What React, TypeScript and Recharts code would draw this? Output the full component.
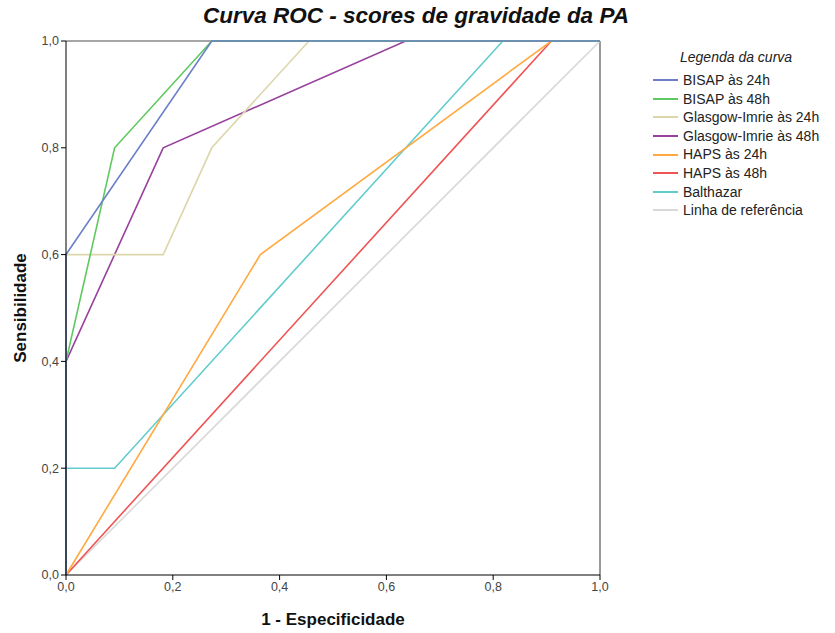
import React from 'react';
import { LineChart, Line, XAxis, YAxis, ReferenceLine } from 'recharts';

const ticks = [0, 0.2, 0.4, 0.6, 0.8, 1];

const bisap24 = [
  { x: 0, y: 0 }, { x: 0, y: 0.6 }, { x: 0.273, y: 1 }, { x: 1, y: 1 },
];
const bisap48 = [
  { x: 0, y: 0 }, { x: 0, y: 0.4 }, { x: 0.091, y: 0.8 }, { x: 0.273, y: 1 }, { x: 1, y: 1 },
];
const glasgow24 = [
  { x: 0, y: 0 }, { x: 0, y: 0.6 }, { x: 0.182, y: 0.6 }, { x: 0.273, y: 0.8 }, { x: 0.455, y: 1 }, { x: 1, y: 1 },
];
const glasgow48 = [
  { x: 0, y: 0 }, { x: 0, y: 0.4 }, { x: 0.182, y: 0.8 }, { x: 0.636, y: 1 }, { x: 1, y: 1 },
];
const haps24 = [
  { x: 0, y: 0 }, { x: 0.364, y: 0.6 }, { x: 0.909, y: 1 }, { x: 1, y: 1 },
];
const haps48 = [
  { x: 0, y: 0 }, { x: 0.909, y: 1 }, { x: 1, y: 1 },
];
const balthazar = [
  { x: 0, y: 0 }, { x: 0, y: 0.2 }, { x: 0.091, y: 0.2 }, { x: 0.818, y: 1 }, { x: 1, y: 1 },
];
const referencia = [
  { x: 0, y: 0 }, { x: 1, y: 1 },
];

const series = [
  { name: 'BISAP às 24h', data: bisap24, color: '#6a7fc8' },
  { name: 'BISAP às 48h', data: bisap48, color: '#5ec95e' },
  { name: 'Glasgow-Imrie às 24h', data: glasgow24, color: '#dcd7aa' },
  { name: 'Glasgow-Imrie às 48h', data: glasgow48, color: '#97419c' },
  { name: 'HAPS às 24h', data: haps24, color: '#ffa940' },
  { name: 'HAPS às 48h', data: haps48, color: '#f05454' },
  { name: 'Balthazar', data: balthazar, color: '#62cccc' },
  { name: 'Linha de referência', data: referencia, color: '#d8d8d8' },
];

const fmt = (v: number) => v.toFixed(1).replace('.', ',');
const FONT = 'Arial, "Liberation Sans", sans-serif';

const LegendBox = () => (
  <div style={{ position: 'absolute', left: 653, top: 47, width: 182, fontFamily: FONT, fontSize: 14, color: '#222' }}>
    <div style={{ fontStyle: 'italic', marginLeft: 27, marginBottom: 4, height: 20, lineHeight: '20px' }}>Legenda da curva</div>
    {series.map((s) => (
      <div key={s.name} style={{ display: 'flex', alignItems: 'center', height: 18.6, lineHeight: '18.6px', whiteSpace: 'nowrap' }}>
        <div style={{ width: 25, height: 2, background: s.color, marginRight: 5, flex: 'none' }} />
        <span>{s.name}</span>
      </div>
    ))}
  </div>
);

export default function App() {
  return (
    <div style={{ position: 'absolute', left: 0, top: 0, width: 835, height: 633, background: '#fff' }}>
      <div style={{ position: 'absolute', left: 0, top: 3, width: 832, textAlign: 'center', fontFamily: FONT, fontSize: 22.5, fontWeight: 'bold', fontStyle: 'italic', color: '#111' }}>
        Curva ROC - scores de gravidade da PA
      </div>
      <LineChart width={835} height={633} margin={{ top: 41, right: 235, bottom: 28, left: 10 }}>
        <XAxis
          type="number"
          dataKey="x"
          domain={[0, 1]}
          ticks={ticks}
          tickFormatter={fmt}
          allowDuplicatedCategory={false}
          height={30}
          stroke="#000"
          tick={{ fill: '#444', fontSize: 12.5, fontFamily: FONT }}
          tickSize={5}
          label={{ value: '1 - Especificidade', position: 'insideBottom', offset: -20, style: { fontWeight: 'bold', fontSize: 17, fill: '#111', fontFamily: FONT } }}
        />
        <YAxis
          type="number"
          dataKey="y"
          domain={[0, 1]}
          ticks={ticks}
          tickFormatter={fmt}
          width={56}
          stroke="#000"
          tick={{ fill: '#444', fontSize: 12.5, fontFamily: FONT }}
          tickSize={5}
          label={{ value: 'Sensibilidade', angle: -90, position: 'insideLeft', offset: 10, style: { textAnchor: 'middle', fontWeight: 'bold', fontSize: 17, fill: '#111', fontFamily: FONT } }}
        />
        <ReferenceLine y={1} stroke="#888" strokeWidth={1.5} />
        <ReferenceLine x={1} stroke="#777" strokeWidth={1.5} />
        {series.slice().reverse().map((s) => (
          <Line
            key={s.name}
            data={s.data}
            dataKey="y"
            name={s.name}
            type="linear"
            stroke={s.color}
            strokeWidth={1.6}
            dot={false}
            activeDot={false}
            isAnimationActive={false}
          />
        ))}
      </LineChart>
      <LegendBox />
    </div>
  );
}
